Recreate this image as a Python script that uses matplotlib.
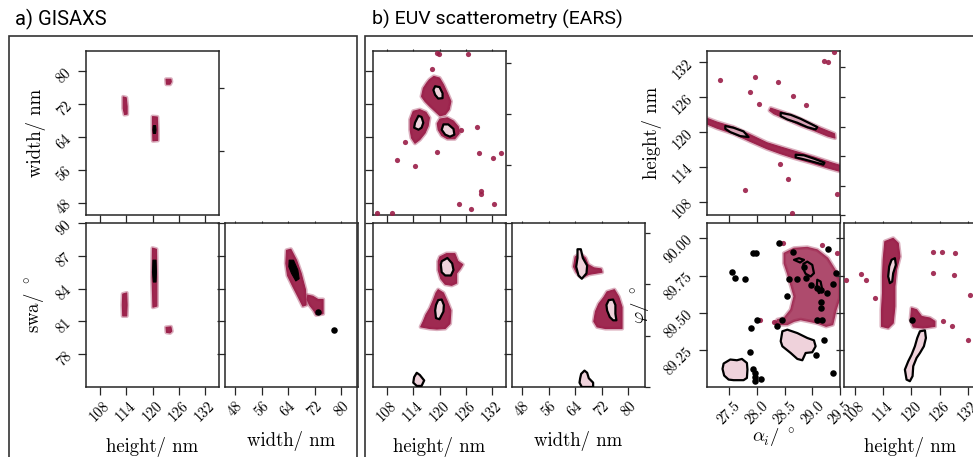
import matplotlib.pyplot as plt
from matplotlib.patches import Polygon, Rectangle

plt.rcParams["font.family"] = "serif"
plt.rcParams["font.serif"] = ["cmr10"]
plt.rcParams["mathtext.fontset"] = "cm"
plt.rcParams["axes.formatter.use_mathtext"] = True

MAROON = "#9a1e48"
PINK = "#efd2db"
SPINE = "#262626"

# --------------------------------------------------------------------------
# axis ranges and ticks
# --------------------------------------------------------------------------
HEIGHT_LIM = (104.8, 135.2)
HEIGHT_LIM_EARS = (105.7, 133.9)
WIDTH_LIM = (45, 85)
SWA_LIM = (75, 90)
ALPHA_LIM = (27.1, 29.5)
PHI_LIM = (89.0, 90.104)

height_ticks = [108, 114, 120, 126, 132]
width_ticks = [48, 56, 64, 72, 80]
swa_ticks = [78, 81, 84, 87, 90]
alpha_ticks = [27.5, 28.0, 28.5, 29.0, 29.5]
phi_ticks = [89.25, 89.50, 89.75, 90.00]

# --------------------------------------------------------------------------
# a) GISAXS samples (outlines of the sample clouds, data units)
# --------------------------------------------------------------------------
gis_hw_bar_a = [(113.3, 73.8), (114.0, 73.6), (114.2, 71.5), (114.2, 69.6), (113.6, 69.5), (113.3, 71.0)]
gis_hw_bar_b = [(120.0, 69.0), (121.1, 68.9), (121.2, 66.0), (121.2, 63.2), (120.1, 63.1), (120.0, 66.0)]
gis_hw_core = [(120.2, 66.8), (120.7, 66.8), (120.8, 65.8), (120.7, 64.9), (120.2, 64.9), (120.1, 65.8)]
gis_hw_spot = [(123.1, 78.1), (124.2, 78.1), (124.3, 77.5), (124.0, 76.9), (123.2, 76.9)]

gis_hs_bar_a = [(120.0, 87.7), (120.9, 87.6), (121.0, 85.0), (121.0, 82.4), (120.1, 82.3), (119.9, 85.0)]
gis_hs_core = [(120.1, 86.6), (120.8, 86.6), (120.9, 85.5), (120.8, 84.6), (120.2, 84.6), (120.0, 85.5)]
gis_hs_bar_b = [(113.2, 83.5), (114.1, 83.6), (114.2, 82.5), (114.1, 81.5), (113.2, 81.5), (113.1, 82.5)]
gis_hs_spot = [(123.1, 80.45), (124.2, 80.5), (124.4, 80.1), (124.0, 79.95), (123.2, 80.0)]

gis_ws_diag = [(63.5, 87.5), (64.8, 87.6), (66.5, 86.6), (67.9, 85.4), (69.2, 83.9), (69.4, 82.5),
               (68.4, 82.4), (67.0, 83.25), (65.4, 84.2), (63.8, 85.2), (63.3, 86.3)]
gis_ws_side = [(69.9, 83.4), (71.4, 83.3), (73.0, 83.0), (74.5, 83.0), (74.5, 81.7), (72.4, 81.6),
               (71.7, 82.0), (70.4, 82.5), (69.7, 83.0)]
gis_ws_core = [(64.3, 86.6), (65.6, 86.6), (66.9, 85.7), (67.3, 84.9), (66.3, 84.7), (65.0, 85.4), (64.2, 86.0)]
gis_ws_black = [(73.0, 81.9), (77.8, 80.2)]

# --------------------------------------------------------------------------
# b) EUV scatterometry, block 1: height / width / swa
# --------------------------------------------------------------------------
euv_hw_cloud_a = [(117.7, 78.0), (118.7, 78.8), (120.0, 78.4), (120.9, 76.8), (121.8, 74.7), (122.6, 72.7),
                  (122.2, 70.7), (121.3, 69.5), (120.1, 69.2), (119.0, 70.3), (117.8, 71.5), (116.7, 72.7),
                  (115.9, 73.9), (116.3, 75.9), (117.1, 77.2)]
euv_hw_cloud_b = [(114.0, 70.3), (115.5, 70.7), (116.9, 70.05), (117.7, 68.7), (117.4, 66.7), (116.7, 65.0),
                  (115.5, 63.4), (114.4, 62.5), (113.6, 63.8), (113.3, 65.8), (113.3, 68.3)]
euv_hw_cloud_c = [(120.1, 68.4), (121.8, 68.7), (123.2, 67.9), (124.3, 66.5), (124.5, 64.9), (123.5, 63.6),
                  (121.8, 63.6), (120.5, 64.4), (119.7, 65.8), (119.5, 67.3)]
euv_hw_cont_a = [(119.0, 76.4), (120.0, 76.2), (120.7, 74.7), (120.7, 73.5), (119.7, 73.4), (119.0, 74.3), (118.6, 75.5)]
euv_hw_cont_b = [(115.2, 69.2), (115.9, 68.9), (116.3, 67.5), (115.9, 66.3), (115.2, 65.8), (114.2, 66.3), (114.4, 67.5)]
euv_hw_cont_c = [(120.9, 67.1), (122.0, 67.1), (123.2, 66.0), (123.4, 64.6), (122.4, 64.1), (121.3, 64.6), (120.5, 65.8)]
euv_hw_outliers = [(119.4, 84.6), (119.9, 84.2), (126.4, 84.2), (118.2, 80.6), (112.1, 62.9), (110.2, 58.4),
                   (114.4, 56.9), (119.4, 60.4), (124.9, 65.7), (128.6, 66.5), (129.0, 60.0), (132.2, 58.9),
                   (134.0, 60.0), (129.5, 50.9), (129.5, 50.0), (124.5, 47.6), (127.2, 46.4), (132.5, 47.6),
                   (105.6, 45.5), (109.1, 45.5)]

euv_hs_cloud_a = [(120.1, 86.9), (121.6, 87.2), (123.5, 87.2), (124.2, 86.5), (125.3, 86.2), (124.7, 85.8),
                  (123.9, 85.4), (123.9, 84.5), (122.8, 84.3), (121.3, 84.4), (120.3, 84.9), (119.7, 85.7),
                  (119.7, 86.5)]
euv_hs_cloud_b = [(119.2, 83.6), (119.7, 83.9), (120.9, 83.6), (121.8, 82.8), (122.6, 82.0), (122.4, 80.8),
                  (121.3, 80.35), (119.4, 80.3), (117.8, 80.35), (115.7, 80.5), (116.3, 81.0), (116.9, 81.6),
                  (117.8, 82.2), (118.6, 82.95)]
euv_hs_cont_a = [(120.5, 86.5), (121.8, 86.8), (122.9, 86.3), (123.2, 85.7), (122.6, 85.2), (121.3, 85.2),
                 (120.5, 85.5), (120.3, 86.2)]
euv_hs_cont_b = [(119.7, 82.95), (120.5, 83.0), (121.0, 82.5), (120.9, 81.9), (120.0, 81.2), (119.2, 81.3),
                 (119.0, 82.0), (119.2, 82.5)]
euv_hs_cont_c = [(114.8, 76.3), (115.5, 76.1), (116.5, 75.6), (115.9, 75.1), (114.8, 75.1), (114.0, 75.4), (114.2, 75.9)]

euv_ws_cloud_a = [(64.0, 86.9), (65.5, 87.2), (67.1, 86.8), (67.9, 86.2), (69.6, 85.9), (71.8, 85.8), (72.1, 85.5),
                  (70.1, 85.4), (68.1, 85.3), (66.8, 85.1), (65.5, 85.1), (64.3, 85.5), (63.5, 86.0)]
euv_ws_cloud_b = [(73.6, 83.7), (75.8, 83.9), (77.1, 83.25), (78.1, 82.3), (78.1, 81.0), (78.1, 80.35),
                  (75.6, 80.35), (73.1, 80.35), (70.6, 80.5), (69.6, 81.0), (70.1, 81.9), (71.1, 82.6), (72.6, 83.2)]
euv_ws_cont_a = [(64.7, 87.6), (65.7, 87.6), (66.3, 86.8), (67.6, 86.1), (67.4, 85.4), (66.0, 84.9), (65.0, 85.2),
                 (64.3, 86.0), (64.7, 86.8)]
euv_ws_cont_b = [(74.1, 82.95), (75.4, 83.0), (76.1, 82.5), (76.1, 81.7), (76.4, 81.1), (75.4, 81.1), (74.4, 81.4),
                 (73.6, 82.0), (73.4, 82.5)]
euv_ws_cont_c = [(65.8, 76.2), (66.8, 76.5), (67.6, 76.3), (68.1, 75.8), (69.4, 75.4), (69.4, 75.0), (66.0, 75.0),
                 (65.3, 75.4), (65.5, 75.8)]

# --------------------------------------------------------------------------
# b) EUV scatterometry, block 2: alpha_i / height / phi
# --------------------------------------------------------------------------
ears_ah_band_low = [(27.09, 122.36), (27.28, 121.67), (27.58, 120.81), (27.88, 119.5), (28.18, 118.13),
                    (28.43, 117.39), (28.73, 116.53), (29.03, 115.67), (29.34, 114.7), (29.5, 114.24),
                    (29.5, 113.21), (29.28, 113.79), (28.97, 114.7), (28.67, 115.5), (28.43, 116.24),
                    (28.18, 117.1), (27.88, 118.36), (27.58, 119.67), (27.28, 120.64), (27.09, 121.39)]
ears_ah_band_up = [(28.25, 124.07), (28.43, 123.5), (28.67, 122.7), (28.91, 121.67), (29.15, 120.64),
                   (29.4, 119.67), (29.41, 118.93), (29.28, 119.27), (29.03, 120.24), (28.79, 121.1),
                   (28.55, 122.13), (28.31, 123.1), (28.23, 123.67)]
ears_ah_cont_a = [(27.43, 121.0), (27.58, 120.7), (27.76, 120.07), (27.85, 119.1), (27.7, 119.27),
                  (27.52, 119.96), (27.43, 120.53)]
ears_ah_cont_b = [(28.43, 123.27), (28.61, 122.93), (28.79, 122.24), (28.97, 121.39), (29.09, 120.81),
                  (29.06, 120.41), (28.91, 120.81), (28.73, 121.56), (28.55, 122.13), (28.43, 122.7)]
ears_ah_cont_c = [(28.7, 116.07), (28.85, 115.96), (29.03, 115.39), (29.22, 114.7), (29.2, 114.36),
                  (29.03, 114.81), (28.85, 115.27), (28.7, 115.61)]
ears_ah_outliers = [(27.34, 128.99), (27.97, 129.39), (27.87, 126.81), (28.03, 124.81), (28.38, 128.53),
                    (28.66, 126.24), (28.89, 124.53), (29.22, 132.24), (29.29, 131.96), (29.4, 133.79),
                    (28.42, 114.41), (28.57, 111.84), (27.79, 110.07), (28.63, 106.07), (29.44, 109.27)]

ears_ap_cloud = [(28.49, 89.90), (28.67, 89.934), (28.91, 89.94), (29.09, 89.923), (29.28, 89.867),
                 (29.43, 89.777), (29.5, 89.71), (29.5, 89.598), (29.43, 89.52), (29.37, 89.42),
                 (29.25, 89.408), (29.09, 89.43), (28.94, 89.442), (28.79, 89.453), (28.67, 89.442),
                 (28.55, 89.42), (28.43, 89.42), (28.34, 89.43), (28.37, 89.453), (28.49, 89.464),
                 (28.61, 89.52), (28.67, 89.61), (28.61, 89.688), (28.55, 89.766), (28.49, 89.833)]
ears_ap_cont_mid = [(28.46, 89.375), (28.55, 89.386), (28.73, 89.363), (28.91, 89.33), (29.03, 89.314),
                    (29.06, 89.274), (29.0, 89.234), (28.88, 89.229), (28.82, 89.18), (28.73, 89.189),
                    (28.61, 89.229), (28.46, 89.274), (28.43, 89.308)]
ears_ap_cont_low = [(27.4, 89.158), (27.52, 89.185), (27.64, 89.18), (27.73, 89.189), (27.82, 89.162),
                    (27.83, 89.117), (27.82, 89.061), (27.76, 89.046), (27.58, 89.046), (27.49, 89.05),
                    (27.41, 89.077), (27.38, 89.122)]
ears_ap_loop_a = [(28.84, 89.829), (28.91, 89.844), (29.0, 89.822), (29.03, 89.766), (28.97, 89.744),
                  (28.88, 89.762), (28.84, 89.793)]
ears_ap_loop_b = [(29.09, 89.722), (29.15, 89.71), (29.18, 89.654), (29.12, 89.632), (29.08, 89.666)]
ears_ap_loop_c = [(28.67, 89.856), (28.76, 89.867), (28.85, 89.856), (28.78, 89.838)]
ears_ap_black = [(27.55, 89.771), (27.6, 89.733), (27.78, 89.728), (27.93, 89.905), (27.98, 89.9),
                 (28.4, 89.968), (28.66, 89.907), (29.28, 89.927), (29.43, 89.766), (29.37, 89.692),
                 (28.85, 89.806), (28.58, 89.728), (28.73, 89.728), (28.88, 89.733), (28.98, 89.688),
                 (29.08, 89.666), (29.15, 89.654), (29.26, 89.636), (29.15, 89.569), (28.55, 89.61),
                 (29.15, 89.531), (29.18, 89.453), (29.09, 89.453), (28.37, 89.408), (28.46, 89.453),
                 (28.0, 89.453), (27.89, 89.395), (27.87, 89.234), (27.93, 89.122), (27.97, 89.095),
                 (27.97, 89.068), (27.97, 89.039), (28.08, 89.055), (29.22, 89.319), (29.06, 89.218),
                 (29.37, 89.095)]
ears_ap_maroon = [(28.48, 89.968), (29.18, 89.956), (28.05, 89.45), (28.3, 89.44), (29.45, 89.90)]

ears_hp_cloud_a = [(114.36, 89.979), (116.13, 90.001), (117.2, 89.968), (117.55, 89.878), (116.84, 89.789),
                   (116.49, 89.677), (116.49, 89.543), (116.13, 89.43), (115.07, 89.397), (113.66, 89.408),
                   (113.66, 89.52), (113.87, 89.632), (113.87, 89.744), (114.01, 89.856)]
ears_hp_cloud_b = [(120.03, 89.531), (121.09, 89.52), (122.15, 89.475), (123.92, 89.464), (124.98, 89.442),
                   (124.98, 89.408), (122.5, 89.397), (120.38, 89.404), (119.81, 89.453)]
ears_hp_cont_a = [(115.78, 89.856), (116.49, 89.867), (116.7, 89.822), (116.13, 89.766), (115.92, 89.71),
                  (115.43, 89.699), (115.07, 89.744), (115.28, 89.811)]
ears_hp_cont_b = [(121.8, 89.375), (122.86, 89.381), (123.07, 89.33), (122.64, 89.274), (121.8, 89.229),
                  (121.09, 89.196), (120.38, 89.14), (120.24, 89.073), (119.67, 89.039), (118.96, 89.05),
                  (118.61, 89.117), (119.32, 89.173), (120.03, 89.218), (120.73, 89.274), (121.23, 89.33)]
ears_hp_outliers = [(106.23, 89.721), (109.41, 89.762), (110.47, 89.721), (112.24, 89.598), (124.63, 89.912),
                    (126.54, 89.912), (129.23, 89.9), (124.63, 89.766), (129.01, 89.755), (132.41, 89.621),
                    (126.75, 89.442), (128.52, 89.408), (132.06, 89.314)]
ears_hp_black = [(120.03, 89.453)]


# --------------------------------------------------------------------------
# drawing helpers
# --------------------------------------------------------------------------
def cloud(ax, verts, alpha=0.95):
    # soft rim first, then the dense body of samples
    ax.add_patch(Polygon(verts, closed=True, facecolor="none", edgecolor=MAROON,
                         linewidth=3.0, alpha=0.35, joinstyle="round", zorder=2))
    ax.add_patch(Polygon(verts, closed=True, facecolor=MAROON, edgecolor=MAROON,
                         linewidth=0.8, alpha=alpha, joinstyle="round", zorder=2))


def contour(ax, verts, fill=PINK):
    ax.add_patch(Polygon(verts, closed=True, facecolor=fill, edgecolor="black",
                         linewidth=1.6, joinstyle="round", zorder=4))


def core(ax, verts):
    ax.add_patch(Polygon(verts, closed=True, facecolor="black", edgecolor="black",
                         linewidth=0.8, joinstyle="round", zorder=4))


def points(ax, pts, color=MAROON, s=14, alpha=0.9):
    xs, ys = zip(*pts)
    ax.scatter(xs, ys, s=s, c=color, alpha=alpha, linewidths=0, zorder=5)


def style(ax, xlim, ylim, xticks, yticks, xlabels=False, ylabels=False,
          xfmt="{:g}", yfmt="{:g}"):
    ax.set_xlim(xlim)
    ax.set_ylim(ylim)
    ax.set_xticks(xticks)
    ax.set_yticks(yticks)
    ax.set_xticklabels([xfmt.format(v) for v in xticks] if xlabels else [])
    ax.set_yticklabels([yfmt.format(v) for v in yticks] if ylabels else [])
    ax.tick_params(direction="out", length=5.5, width=0.9, color=SPINE,
                   labelsize=10.5, pad=3)
    ax.tick_params(axis="x", labelrotation=45)
    ax.tick_params(axis="y", labelrotation=45)
    for sp in ax.spines.values():
        sp.set_linewidth(1.1)
        sp.set_color(SPINE)


def top_dots(ax, xticks):
    sec = ax.secondary_xaxis("top")
    sec.set_xticks(xticks)
    sec.set_xticklabels([])
    sec.tick_params(length=1.5, width=0.8, color=SPINE)
    sec.spines["top"].set_visible(False)


def right_marks(ax, fracs):
    tw = ax.twinx()
    tw.set_ylim(0, 1)
    tw.set_yticks(fracs)
    tw.set_yticklabels([])
    tw.tick_params(length=3.5, width=0.9, color=SPINE)
    for sp in tw.spines.values():
        sp.set_visible(False)


# --------------------------------------------------------------------------
# figure and layout
# --------------------------------------------------------------------------
W, H = 973, 457
fig = plt.figure(figsize=(W / 100, H / 100), dpi=100)


def add_ax(x0, y0, x1, y1):
    return fig.add_axes([x0 / W, 1 - y1 / H, (x1 - x0) / W, (y1 - y0) / H])


TOP = (51, 215)
BOT = (223, 387)
g00 = add_ax(86, TOP[0], 219, TOP[1])
g10 = add_ax(86, BOT[0], 219, BOT[1])
g11 = add_ax(225, BOT[0], 358, BOT[1])
e00 = add_ax(373, TOP[0], 506, TOP[1])
e10 = add_ax(373, BOT[0], 506, BOT[1])
e11 = add_ax(512, BOT[0], 645, BOT[1])
r00 = add_ax(707, TOP[0], 840, TOP[1])
r10 = add_ax(707, BOT[0], 840, BOT[1])
r11 = add_ax(844, BOT[0], 977, BOT[1])

# panel frames
fig.add_artist(Rectangle((9 / W, -0.02), (357 - 9) / W, 0.02 + 1 - 36 / H, transform=fig.transFigure,
                         fill=False, lw=1.2, ec="#333333"))
fig.add_artist(Rectangle((365 / W, -0.02), 0.05 + 1 - 365 / W, 0.02 + 1 - 36 / H, transform=fig.transFigure,
                         fill=False, lw=1.2, ec="#333333"))
fig.text(15 / W, 1 - 19 / H, "a) GISAXS", family="Roboto", fontsize=14.5, va="center", ha="left")
fig.text(372 / W, 1 - 19 / H, "b) EUV scatterometry (EARS)", family="Roboto", fontsize=14,
         va="center", ha="left")

LABEL_KW = dict(fontsize=13.5)

# ---- a) GISAXS
cloud(g00, gis_hw_bar_a)
cloud(g00, gis_hw_bar_b)
cloud(g00, gis_hw_spot)
core(g00, gis_hw_core)
style(g00, HEIGHT_LIM, WIDTH_LIM, height_ticks, width_ticks, ylabels=True)
g00.set_ylabel("width/ nm", labelpad=6, **LABEL_KW)
right_marks(g00, [0.39, 0.774])

cloud(g10, gis_hs_bar_a)
cloud(g10, gis_hs_bar_b)
cloud(g10, gis_hs_spot)
core(g10, gis_hs_core)
style(g10, HEIGHT_LIM, SWA_LIM, height_ticks, swa_ticks, xlabels=True, ylabels=True)
g10.set_ylabel(r"swa/ $^\circ$", labelpad=6, **LABEL_KW)
g10.set_xlabel("height/ nm", labelpad=9, **LABEL_KW)

cloud(g11, gis_ws_diag)
cloud(g11, gis_ws_side)
core(g11, gis_ws_core)
points(g11, gis_ws_black, color="black", s=22, alpha=1.0)
style(g11, WIDTH_LIM, SWA_LIM, width_ticks, swa_ticks, xlabels=True)
g11.set_xlabel("width/ nm", labelpad=9, **LABEL_KW)
top_dots(g11, width_ticks)

# ---- b) EUV block 1
for c in (euv_hw_cloud_a, euv_hw_cloud_b, euv_hw_cloud_c):
    cloud(e00, c)
for c in (euv_hw_cont_a, euv_hw_cont_b, euv_hw_cont_c):
    contour(e00, c)
points(e00, euv_hw_outliers)
style(e00, HEIGHT_LIM, WIDTH_LIM, height_ticks, width_ticks)
top_dots(e00, height_ticks)
right_marks(e00, [0.305, 0.616, 0.927])

for c in (euv_hs_cloud_a, euv_hs_cloud_b):
    cloud(e10, c)
for c in (euv_hs_cont_a, euv_hs_cont_b, euv_hs_cont_c):
    contour(e10, c)
style(e10, HEIGHT_LIM, SWA_LIM, height_ticks, swa_ticks, xlabels=True)
e10.set_xlabel("height/ nm", labelpad=9, **LABEL_KW)

for c in (euv_ws_cloud_a, euv_ws_cloud_b):
    cloud(e11, c)
for c in (euv_ws_cont_a, euv_ws_cont_b, euv_ws_cont_c):
    contour(e11, c)
style(e11, WIDTH_LIM, SWA_LIM, width_ticks, swa_ticks, xlabels=True)
e11.set_xlabel("width/ nm", labelpad=9, **LABEL_KW)
top_dots(e11, width_ticks)
right_marks(e11, [0.0, 0.311, 0.628, 0.939])

# ---- b) EUV block 2
cloud(r00, ears_ah_band_low)
cloud(r00, ears_ah_band_up)
for c in (ears_ah_cont_a, ears_ah_cont_b, ears_ah_cont_c):
    contour(r00, c, fill="#d9a3b6")
points(r00, ears_ah_outliers)
style(r00, ALPHA_LIM, HEIGHT_LIM_EARS, alpha_ticks, height_ticks, ylabels=True)
r00.set_ylabel("height/ nm", labelpad=6, **LABEL_KW)
right_marks(r00, [0.0, 0.177, 0.36, 0.537, 0.72, 0.902])

cloud(r10, ears_ap_cloud, alpha=0.8)
contour(r10, ears_ap_cont_mid)
contour(r10, ears_ap_cont_low)
for c in (ears_ap_loop_a, ears_ap_loop_b, ears_ap_loop_c):
    contour(r10, c, fill="none")
points(r10, ears_ap_maroon)
points(r10, ears_ap_black, color="black", s=22, alpha=1.0)
style(r10, ALPHA_LIM, PHI_LIM, alpha_ticks, phi_ticks, xlabels=True, ylabels=True,
      xfmt="{:.1f}", yfmt="{:.2f}")
r10.set_ylabel(r"$\varphi/\ ^\circ$", labelpad=6, **LABEL_KW)
r10.set_xlabel(r"$\alpha_i/\ ^\circ$", labelpad=0, **LABEL_KW)

cloud(r11, ears_hp_cloud_a)
cloud(r11, ears_hp_cloud_b)
contour(r11, ears_hp_cont_a)
contour(r11, ears_hp_cont_b)
points(r11, ears_hp_outliers)
points(r11, ears_hp_black, color="black", s=22, alpha=1.0)
style(r11, HEIGHT_LIM_EARS, PHI_LIM, height_ticks, phi_ticks, xlabels=True)
r11.set_xlabel("height/ nm", labelpad=9, **LABEL_KW)
top_dots(r11, height_ticks)

fig.savefig("out.png", dpi=100)
